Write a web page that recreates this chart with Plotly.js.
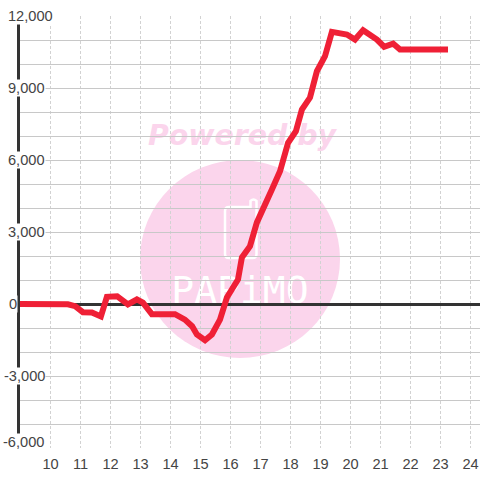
<!DOCTYPE html>
<html>
<head>
<meta charset="utf-8">
<script src="https://cdn.plot.ly/plotly-3.0.1.min.js"></script>
<style>html,body{margin:0;padding:0;background:#fff}#chart{width:480px;height:480px}</style>
</head>
<body>
<div id="chart"></div>
<script>
var hours = [8.88,10.58,10.82,11.08,11.38,11.68,11.88,12.22,12.58,12.88,13.08,13.38,14.15,14.48,14.72,14.88,15.15,15.38,15.65,15.88,16.25,16.38,16.65,16.88,17.38,17.65,17.92,18.18,18.38,18.65,18.88,19.15,19.38,19.88,20.15,20.42,20.88,21.12,21.42,21.65,23.25];
var profit = [0,-10,-90,-340,-350,-520,300,325,-20,190,60,-425,-425,-650,-925,-1270,-1510,-1270,-650,270,1020,1940,2410,3400,4770,5530,6720,7200,8100,8600,9700,10325,11340,11230,11020,11410,11020,10720,10850,10600,10600];
var yLabelValues = [12000,9000,6000,3000,0,-3000,-6000];
var yLabelTexts = ['12,000','9,000','6,000','3,000','0','-3,000','-6,000'];
var yLabelLeft = [7,7,7,7,8,3,2];
var xTicks = [10,11,12,13,14,15,16,17,18,19,20,21,22,23,24];
var M = {l:20,r:0,t:16,b:32};
var W = 460, H = 432;
function px(x){return (x-M.l)/W;}
function py(y){return 1-(y-M.t)/H;}
var pink = '#fbd5ec';
var font = 'Liberation Sans, Arial, sans-serif';
var phone = 'M '+px(229)+' '+py(207)+' L '+px(250.5)+' '+py(207)+' L '+px(250.5)+' '+py(201)+' Q '+px(253.5)+' '+py(198)+' '+px(256.5)+' '+py(201)+' L '+px(256.5)+' '+py(254)+' Q '+px(256.5)+' '+py(258)+' '+px(252.5)+' '+py(258)+' L '+px(229)+' '+py(258)+' Q '+px(225)+' '+py(258)+' '+px(225)+' '+py(254)+' L '+px(225)+' '+py(211)+' Q '+px(225)+' '+py(207)+' '+px(229)+' '+py(207)+' Z';
var annotations = yLabelValues.map(function(v,i){
  return {xref:'paper',yref:'y',x:px(yLabelLeft[i]),y:v,xanchor:'left',yanchor:'middle',yshift:v===-6000?6:0,
    text:yLabelTexts[i],showarrow:false,bgcolor:'#ffffff',borderpad:0,font:{family:font,size:14.6,color:'#444444'}};
});
var layout = {
  width:480,height:480,margin:M,paper_bgcolor:'#ffffff',plot_bgcolor:'rgba(0,0,0,0)',showlegend:false,
  xaxis:{range:[10-30.5/30,24+9.5/30],tickmode:'array',tickvals:xTicks,ticktext:xTicks.map(String),ticks:'outside',ticklen:2,tickcolor:'rgba(0,0,0,0)',
    showgrid:true,gridcolor:'#d2d2d2',gridwidth:1,griddash:'3px,2px',zeroline:false,showline:false,
    tickfont:{family:font,size:14.6,color:'#444444'}},
  yaxis:{range:[-6000,12000],dtick:1000,tick0:0,showticklabels:false,ticks:'',showgrid:true,gridcolor:'#c8c8c8',gridwidth:1,
    zeroline:true,zerolinecolor:'#333333',zerolinewidth:3,showline:true,linecolor:'#333333',linewidth:3},
  annotations:annotations,
  shapes:[
    {type:'circle',xref:'paper',yref:'paper',layer:'below',x0:px(140),x1:px(340),y0:py(358),y1:py(160),fillcolor:pink,line:{width:0}},
    {type:'rect',xref:'paper',yref:'paper',layer:'below',x0:px(140),x1:px(344),y0:py(150),y1:py(116),fillcolor:'rgba(0,0,0,0)',line:{width:0},
      label:{text:'<b><i>Powered by</i></b>',textposition:'middle center',font:{family:'DejaVu Sans, sans-serif',size:28.4,color:pink}}},
    {type:'path',xref:'paper',yref:'paper',layer:'below',path:phone,fillcolor:'rgba(0,0,0,0)',line:{color:'#ffffff',width:2.5}},
    {type:'rect',xref:'paper',yref:'paper',layer:'below',x0:px(160),x1:px(320),y0:py(306),y1:py(268),fillcolor:'rgba(0,0,0,0)',line:{width:0},
      label:{text:'PAPiMO',textposition:'middle center',font:{family:'DejaVu Sans Mono, monospace',size:38,color:'#ffffff'}}}
  ]
};
var trace = {type:'scatter',mode:'lines',x:hours,y:profit,cliponaxis:false,line:{color:'#ef2036',width:6,shape:'linear'},hoverinfo:'skip'};
Plotly.newPlot('chart',[trace],layout,{displayModeBar:false,staticPlot:true});
</script>
</body>
</html>
